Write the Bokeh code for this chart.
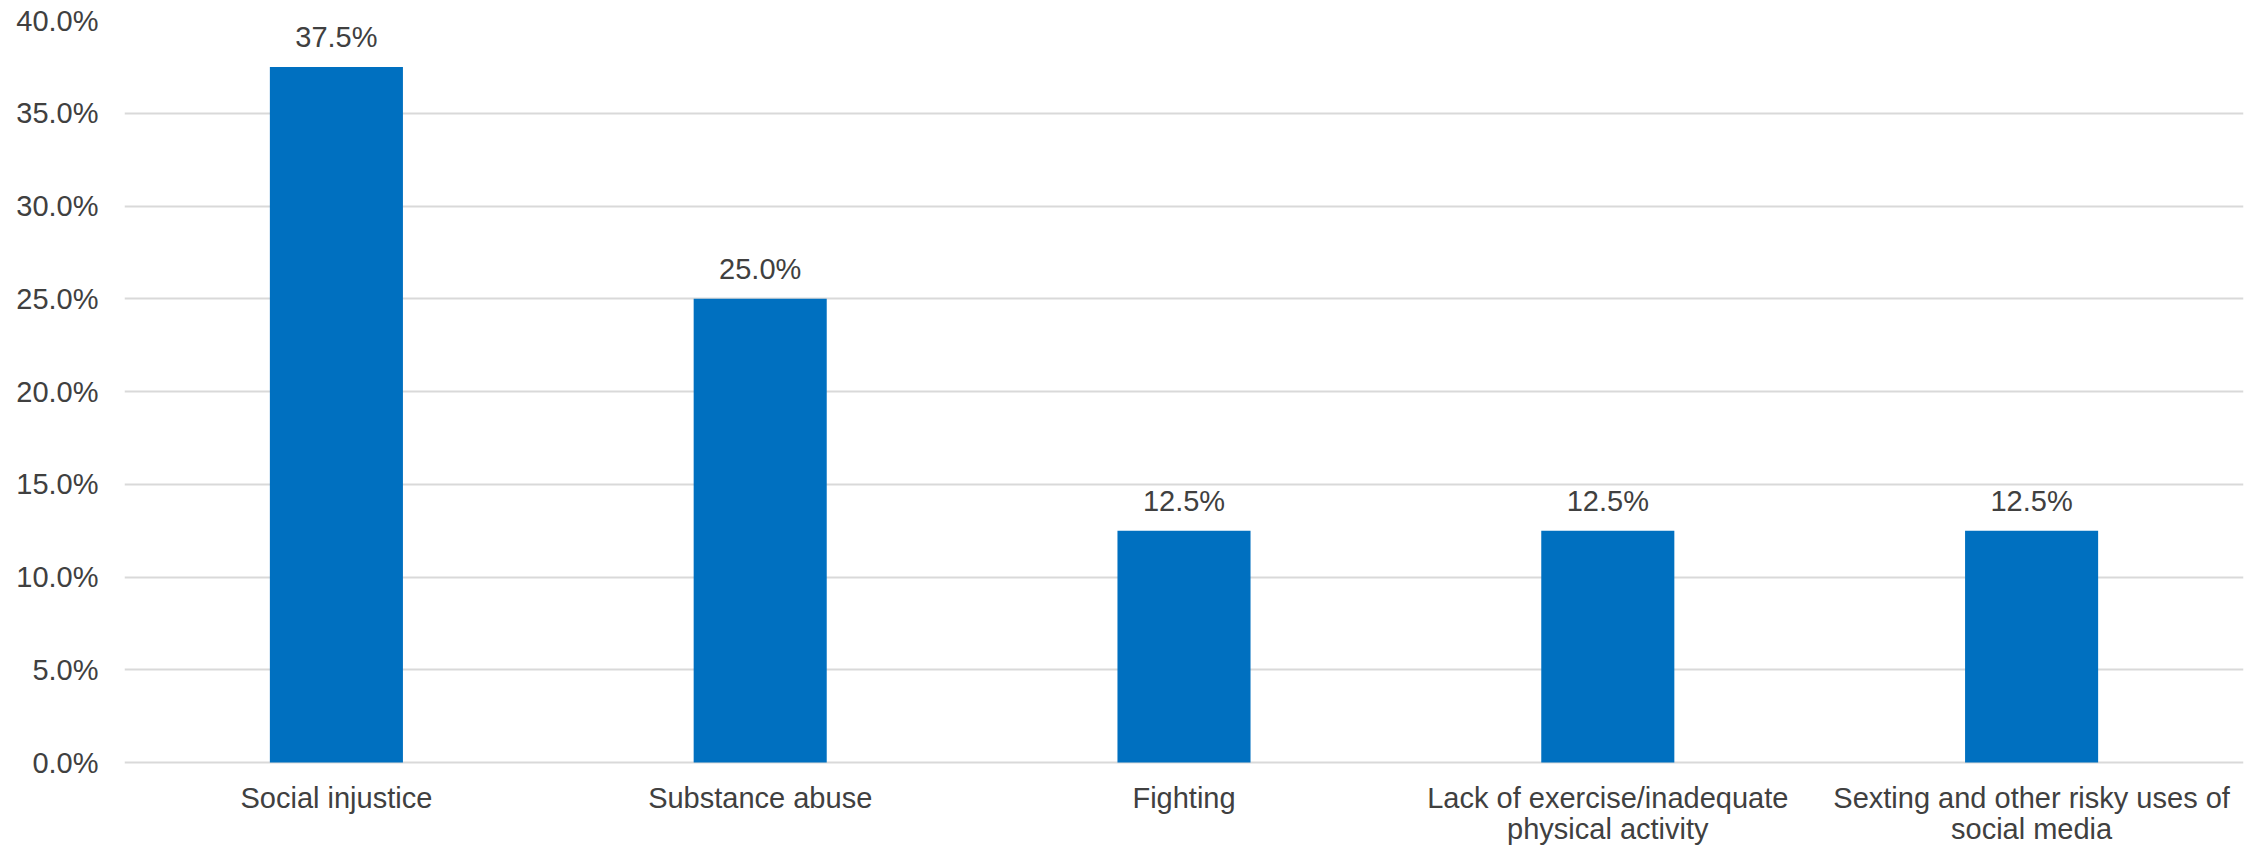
from bokeh.plotting import figure
from bokeh.models import ColumnDataSource, FactorRange, Range1d, FixedTicker
from bokeh.core.properties import value
from bokeh.embed import file_html
from bokeh.resources import INLINE

categories = [
    "Social injustice",
    "Substance abuse",
    "Fighting",
    "Lack of exercise/inadequate\nphysical activity",
    "Sexting and other risky uses of\nsocial media",
]
shares = [37.5, 25.0, 12.5, 12.5, 12.5]
y_ticks = [0, 5, 10, 15, 20, 25, 30, 35, 40]

FONT = "Liberation Sans"
TEXT_COLOR = "#404040"
BAR_COLOR = "#0070C0"
GRID_COLOR = "#D9D9D9"

W, H = 2259, 847
TOP, LEFT, RIGHT = 20, 124, 16
VALUE_AREA = 742          # pixel height from 0% to 40%
Y_MAX = 40

# the frame runs to the bottom edge so the category names can sit
# under the 0% line as text glyphs
px_per_unit = VALUE_AREA / Y_MAX
y_min = -(H - TOP - VALUE_AREA) / px_per_unit

source = ColumnDataSource(dict(
    cat=categories,
    share=shares,
    label=[f"{v:.1f}%" for v in shares],
    base=[0] * len(categories),
))

p = figure(
    width=W, height=H,
    x_range=FactorRange(*categories, range_padding=0),
    y_range=Range1d(y_min, Y_MAX),
    output_backend="svg", toolbar_location=None,
    min_border_left=LEFT, min_border_right=RIGHT,
    min_border_top=TOP, min_border_bottom=0,
)
p.outline_line_color = None
p.background_fill_color = "white"
p.border_fill_color = "white"

p.vbar(x="cat", top="share", bottom="base", width=0.314, source=source,
       fill_color=BAR_COLOR, line_color=None)

# value labels above the bars
p.text(x="cat", y="share", text="label", source=source,
       text_align="center", text_baseline="bottom", y_offset=-14,
       text_font=value(FONT), text_font_size="29px", text_color=TEXT_COLOR)

# category names under the baseline
p.text(x="cat", y="base", text="cat", source=source,
       text_align="center", text_baseline="top", y_offset=19,
       text_font=value(FONT), text_font_size="29px", text_color=TEXT_COLOR,
       text_line_height=0.97)

# y axis: percent labels, no axis line or ticks
p.yaxis.ticker = FixedTicker(ticks=y_ticks)
p.yaxis.major_label_overrides = {t: f"{t:.1f}%" for t in y_ticks}
p.yaxis.axis_line_color = None
p.yaxis.major_tick_line_color = None
p.yaxis.minor_tick_line_color = None
p.yaxis.major_tick_out = 0
p.yaxis.major_label_standoff = 26
p.yaxis.major_label_text_font = FONT
p.yaxis.major_label_text_font_size = "29px"
p.yaxis.major_label_text_color = TEXT_COLOR

p.xaxis.visible = False
p.xgrid.grid_line_color = None
p.ygrid.grid_line_color = GRID_COLOR
p.ygrid.grid_line_width = 2

open("out.html", "w").write(file_html(p, INLINE))
